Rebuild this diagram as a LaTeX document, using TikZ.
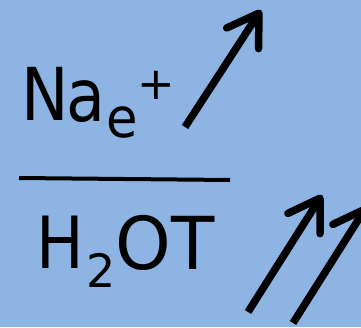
\documentclass[tikz,border=0pt]{standalone}
\usepackage{fontspec}
\setmainfont{DejaVu Sans}
\usetikzlibrary{arrows.meta}
\definecolor{bg}{RGB}{141,180,227}
\begin{document}
\begin{tikzpicture}[x=1pt,y=1pt,
  glyph/.style={inner sep=0pt, outer sep=0pt, text=black},
  uparrow/.style={line width=7.5pt, -{Straight Barb[length=30pt,width=38pt,round]}},
  fracline/.style={line width=4pt}]
\fill[bg] (0,0) rectangle (361,327);
\useasboundingbox (0,0) rectangle (361,327);
\clip (0,0) rectangle (361,327);
% numerator
\node[glyph] (N) at (45.5,233.5) {\scalebox{0.87}[1]{\fontsize{73}{73}\selectfont N}};
\node[glyph] (a) at (86,225.5) {\scalebox{0.87}[1]{\fontsize{73}{73}\selectfont a}};
\node[glyph] (e) at (122.5,204.5) {\scalebox{0.93}[1]{\fontsize{55}{55}\selectfont e}};
\node[glyph] (plus) at (156,242) {\fontsize{45}{45}\selectfont +};
% fraction line
\coordinate (fl) at (19,149);
\coordinate (fr) at (230,147);
\draw[fracline] (fl) -- (fr);
% denominator
\node[glyph] (H) at (60,84.5) {\scalebox{0.88}[1]{\fontsize{72}{72}\selectfont H}};
\node[glyph] (two) at (101.5,57) {\fontsize{46}{46}\selectfont 2};
\node[glyph] (OT) at (165,84.5) {\scalebox{0.97}[1]{\fontsize{73}{73}\selectfont OT}};
% arrows
\coordinate (t1) at (185,200);
\coordinate (h1) at (261,317);
\coordinate (t2) at (248,15);
\coordinate (h2) at (322,132);
\coordinate (t3) at (293,4);
\coordinate (h3) at (367,121);
\draw[uparrow] (t1) -- (h1);
\draw[uparrow] (t2) -- (h2);
\draw[uparrow] (t3) -- (h3);
\end{tikzpicture}
\end{document}
